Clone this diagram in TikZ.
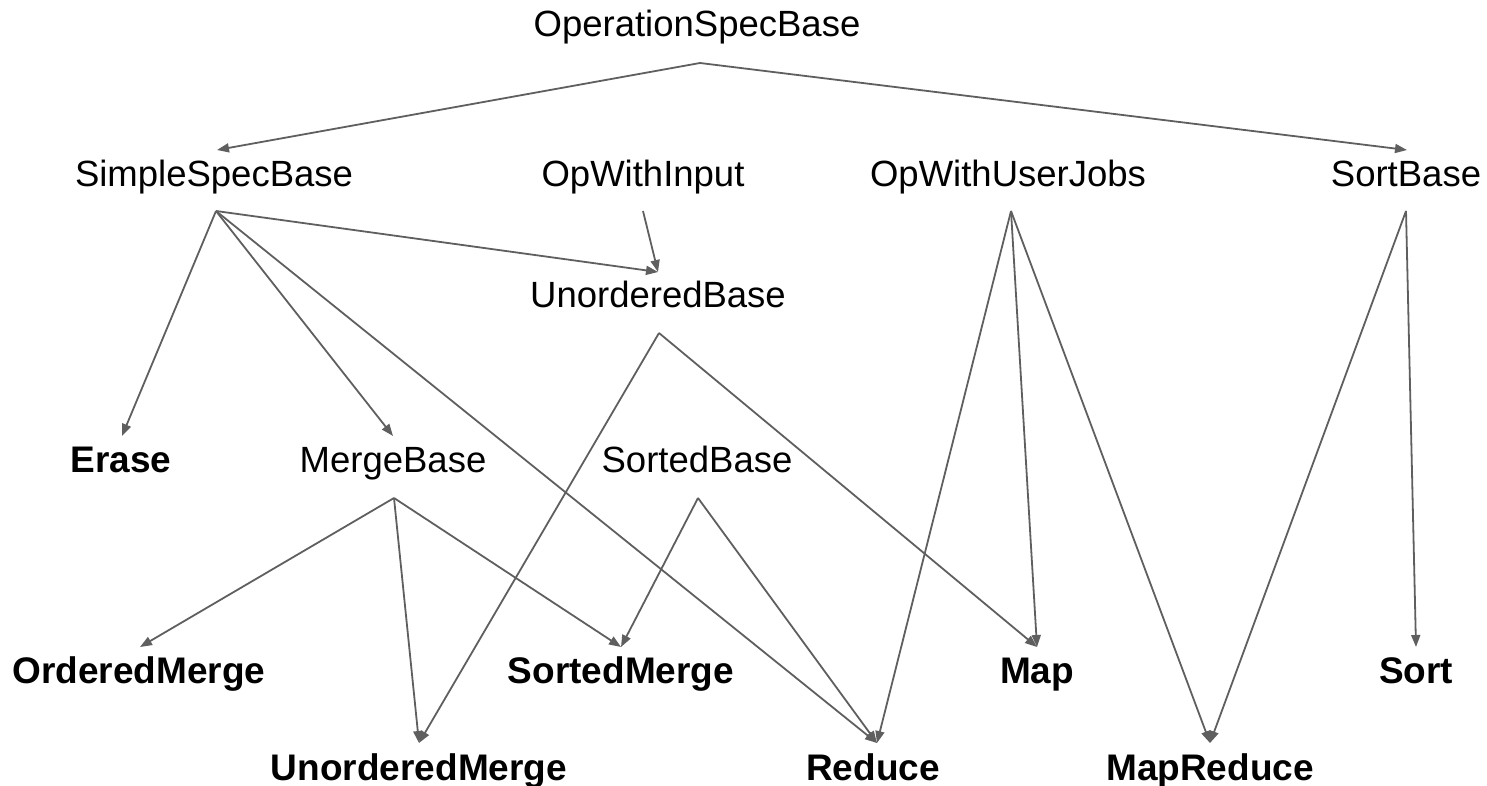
\documentclass[tikz,border=0pt]{standalone}
\usepackage{fontspec}
\setmainfont{Liberation Sans}
\usetikzlibrary{arrows.meta}
\definecolor{edgegray}{HTML}{5F5F5F}
\tikzset{
  cls/.style={anchor=base, inner sep=0pt, font=\fontsize{36.5}{40}\selectfont},
  leaf/.style={cls, font=\fontsize{37}{40}\selectfont\bfseries},
  inherit/.style={draw=edgegray, line width=1.8pt,
    -{Triangle[length=12pt,width=9pt]}, shorten >=0pt},
}
\begin{document}
\begin{tikzpicture}[x=1pt, y=-1pt]
  \useasboundingbox (0,0) rectangle (1487,786);

  % class labels
  \node[cls]  (osb)  at (697,37)  {OperationSpecBase};
  \node[cls]  (ssb)  at (214,187) {SimpleSpecBase};
  \node[cls]  (owi)  at (643,187) {OpWithInput};
  \node[cls]  (owuj) at (1008,187) {OpWithUserJobs};
  \node[cls]  (sb)   at (1406,187) {SortBase};
  \node[cls]  (ub)   at (658,307) {UnorderedBase};
  \node[leaf] (er)   at (121,472) {Erase};
  \node[cls]  (mb)   at (393,472) {MergeBase};
  \node[cls]  (stb)  at (697,472) {SortedBase};
  \node[leaf] (om)   at (139,683) {OrderedMerge};
  \node[leaf] (sm)   at (621,683) {SortedMerge};
  \node[leaf] (mp)   at (1037,683) {Map};
  \node[leaf] (so)   at (1416,683) {Sort};
  \node[leaf] (um)   at (419,780) {UnorderedMerge};
  \node[leaf] (re)   at (873,780) {Reduce};
  \node[leaf] (mr)   at (1210,780) {MapReduce};

  % attachment points below (out) and above (in) each label
  \coordinate (osb-out)  at (700,63);
  \coordinate (ssb-in)   at (217,150);
  \coordinate (ssb-out)  at (216,211);
  \coordinate (owi-out)  at (643,211);
  \coordinate (owuj-out) at (1011,211);
  \coordinate (sb-in)    at (1407,150);
  \coordinate (sb-out)   at (1406,211);
  \coordinate (ub-in)    at (658,272);
  \coordinate (ub-out)   at (659,333);
  \coordinate (er-in)    at (122,436);
  \coordinate (mb-in)    at (393,436);
  \coordinate (mb-out)   at (394,498);
  \coordinate (stb-out)  at (698,498);
  \coordinate (om-in)    at (140,647);
  \coordinate (sm-in)    at (621,647);
  \coordinate (mp-in)    at (1037,647);
  \coordinate (so-in)    at (1416,647);
  \coordinate (um-in)    at (419,743);
  \coordinate (re-in)    at (877,743);
  \coordinate (mr-in)    at (1210,743);

  % inheritance edges
  \draw[inherit] (osb-out) -- (ssb-in);
  \draw[inherit] (osb-out) -- (sb-in);
  \draw[inherit] (ssb-out) -- (er-in);
  \draw[inherit] (ssb-out) -- (mb-in);
  \draw[inherit] (ssb-out) -- (ub-in);
  \draw[inherit] (ssb-out) -- (re-in);
  \draw[inherit] (owi-out) -- (ub-in);
  \draw[inherit] (owuj-out) -- (re-in);
  \draw[inherit] (owuj-out) -- (mp-in);
  \draw[inherit] (owuj-out) -- (mr-in);
  \draw[inherit] (sb-out) -- (mr-in);
  \draw[inherit] (sb-out) -- (so-in);
  \draw[inherit] (ub-out) -- (um-in);
  \draw[inherit] (ub-out) -- (mp-in);
  \draw[inherit] (mb-out) -- (om-in);
  \draw[inherit] (mb-out) -- (um-in);
  \draw[inherit] (mb-out) -- (sm-in);
  \draw[inherit] (stb-out) -- (sm-in);
  \draw[inherit] (stb-out) -- (re-in);
\end{tikzpicture}
\end{document}
